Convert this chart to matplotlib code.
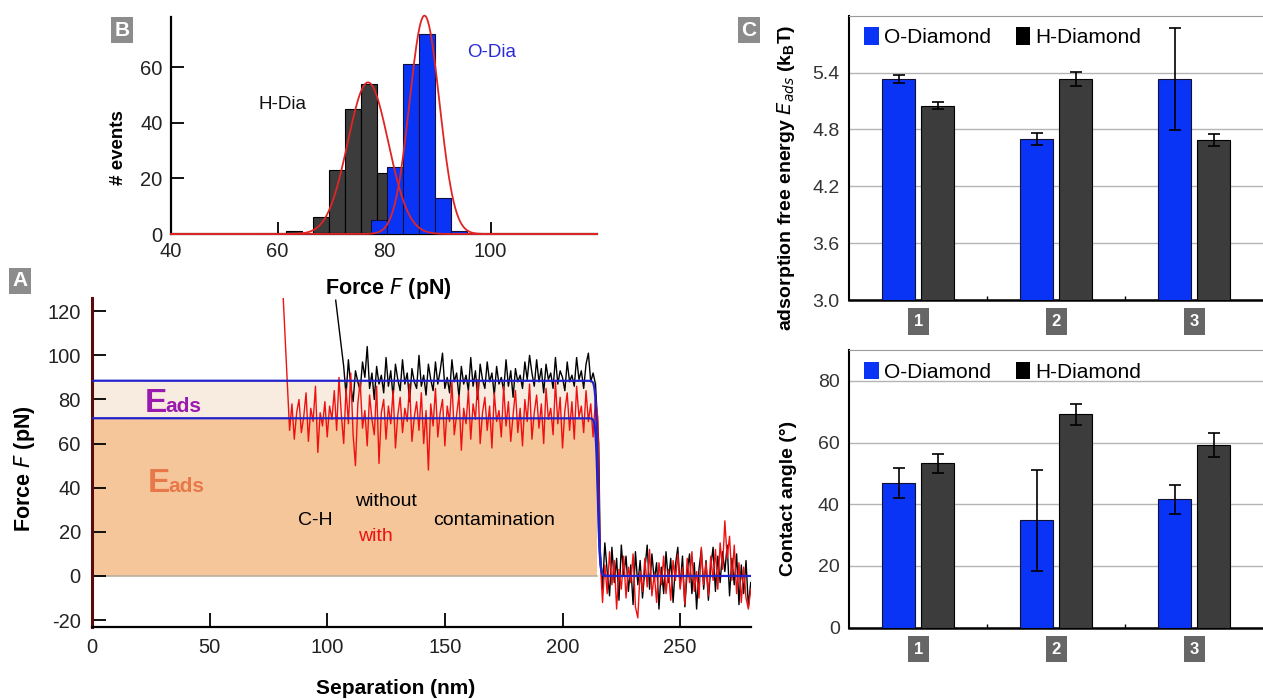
import numpy as np
import matplotlib
matplotlib.use('Agg')
import matplotlib.pyplot as plt
from matplotlib.patches import Patch

plt.rcParams['font.family'] = ['Liberation Sans', 'DejaVu Sans']
plt.rcParams['axes.unicode_minus'] = False

# ---- panel B: rupture force histograms (bin width 3 pN) ----
bin_width = 3.0
h_dia_left = [61.6, 66.6, 69.6, 72.6, 75.6, 78.6]
h_dia_counts = [1, 6, 23, 45, 54, 22]
o_dia_left = [77.6, 80.6, 83.6, 86.6, 89.6, 92.6]
o_dia_counts = [5, 24, 61, 72, 13, 1]
# gaussian fits: centre, sigma, amplitude
h_dia_fit = [77.0, 3.8, 54.5]
o_dia_fit = [87.6, 2.8, 78.5]

# ---- panel A: force-separation plateaus ----
fit_levels = [88.5, 71.5]       # without / with contamination (pN)
rupture_nm = 215.0
rupture_width = 0.9

red_lead_x = [81.3]
red_lead_f = [126]
red_start = 84
red_f = [66, 78, 62, 74, 80, 65, 72, 83, 61, 76, 70, 86, 56, 74, 68, 79, 63, 77, 71, 84,
         66, 90, 73, 60, 85, 69, 92, 64, 50, 78, 88, 67, 75, 59, 82, 71, 64, 86, 51, 74,
         80, 62, 77, 69, 84, 58, 73, 81, 65, 76, 70, 87, 61, 72, 79, 66, 83, 60, 75, 48,
         78, 68, 85, 63, 74, 80, 59, 77, 70, 88, 64, 73, 82, 57, 76, 69, 84, 62, 78, 71,
         89, 60, 74, 81, 66, 77, 58, 83, 70, 75, 63, 86, 68, 79, 61, 73, 84, 65, 76, 59,
         80, 70, 87, 62, 74, 82, 67, 78, 60, 85, 71, 76, 64, 88, 69, 81, 58, 75, 83, 66,
         79, 62, 86, 72, 77, 65, 84, 70, 78, 63, 80, 72,
         8, -12, 5, -8, 11, -4, 7, -15, 3, -6, 9, -10, 4, -3, 10, -14, -19, 2, -7, 8,
         -5, 12, -9, 1, -12, 6, -4, 9, -8, 3, -11, 7, -2, 10, -6, 4, -13, 8, -3, 11,
         -7, 2, -10, 13, -4, 6, -9, 9, -2, 12, -6, 15, 3, 25, 8, 18, -2, 14, -8, 6,
         -12, 4, -10, -15, -6]

black_lead_x = [103.6]
black_lead_f = [125]
black_start = 107
black_f = [95, 82, 98, 86, 79, 93, 88, 84, 97, 90, 104, 85, 92, 80, 95, 87, 91, 83, 99, 86,
           93, 81, 96, 89, 84, 98, 87, 92, 79, 94, 88, 85, 100, 86, 91, 82, 96, 89, 84, 97,
           87, 93, 101, 85, 90, 83, 98, 88, 92, 81, 95, 87, 91, 84, 99, 86, 93, 80, 96, 89,
           85, 97, 88, 92, 82, 95, 87, 90, 84, 98, 86, 93, 81, 94, 88, 91, 85, 97, 89, 100,
           92, 86, 98, 88, 94, 83, 96, 89, 92, 85, 99, 87, 93, 90, 84, 97, 88, 91, 86, 99,
           89, 93, 85, 96, 101, 88, 92, 87, 60,
           12, -6, 15, 2, -9, 13, -3, 8, -11, 14, 0, 9, -7, 5, -13, 11, -4, 7, -10, 3,
           14, -6, 10, -2, 6, -15, 4, -8, 11, -3, 8, -12, 5, 13, -5, 9, -14, 2, 10, -8,
           6, -15, 3, 12, -6, 7, -11, 4, 13, -7, 9, -3, 11, 2, 14, -9, 8, -4, 10, -13,
           5, -8, 7, -14, -3]

# ---- panel C: adsorption energy and contact angle ----
categories = ['1', '2', '3']
o_energy = [5.33, 4.70, 5.33]
o_energy_err = [0.04, 0.065, 0.54]
h_energy = [5.05, 5.33, 4.69]
h_energy_err = [0.035, 0.075, 0.06]
o_angle = [46.8, 34.8, 41.6]
o_angle_err = [4.9, 16.3, 4.8]
h_angle = [53.3, 69.1, 59.2]
h_angle_err = [3.1, 3.5, 3.8]

BLUE = '#0a34f5'
DARK = '#3c3c3c'
TICK_COLOR = '#222222'


def panel_letter(fig, x, y, letter):
    fig.text(x, y, letter, color='white', fontsize=15, fontweight='bold',
             ha='center', va='center',
             bbox=dict(boxstyle='square,pad=0.18', fc='#8c8c8c', ec='none'))


def gaussian(x, centre, sigma, amp):
    return amp * np.exp(-0.5 * ((x - centre) / sigma) ** 2)


def draw_histogram(ax):
    ax.bar(h_dia_left, h_dia_counts, width=bin_width, align='edge',
           color=DARK, edgecolor='black', linewidth=0.8, zorder=2)
    ax.bar(o_dia_left, o_dia_counts, width=bin_width, align='edge',
           color=BLUE, edgecolor='#101040', linewidth=0.8, zorder=3)
    xs = np.linspace(40, 120, 800)
    ax.plot(xs, gaussian(xs, *h_dia_fit), color='#e02525', lw=1.3, zorder=4, clip_on=False)
    ax.plot(xs, gaussian(xs, *o_dia_fit), color='#e02525', lw=1.3, zorder=4, clip_on=False)

    ax.set_xlim(40, 120)
    ax.set_ylim(0, 78)
    ax.set_xticks([40, 60, 80, 100])
    ax.set_yticks([0, 20, 40, 60])
    ax.tick_params(direction='in', length=9, width=1.3, labelsize=14.5,
                   labelcolor=TICK_COLOR, pad=6)
    for s in ['top', 'right']:
        ax.spines[s].set_visible(False)
    for s in ['left', 'bottom']:
        ax.spines[s].set_linewidth(1.6)
    ax.set_xlabel('Force $\\mathit{F}$ (pN)', fontsize=15.5, fontweight='bold')
    ax.set_ylabel('# events', fontsize=13.5, fontweight='bold')
    ax.xaxis.set_label_coords(0.509, -0.195)
    ax.yaxis.set_label_coords(-0.103, 0.40)
    ax.text(61, 46.6, 'H-Dia', fontsize=13.5, ha='center', va='center', color='#111111')
    ax.text(100.2, 65.3, 'O-Dia', fontsize=13.5, ha='center', va='center', color='#2a2ad8')


def draw_trace(ax):
    xs = np.linspace(0, 280, 2801)
    step = 0.5 * (1 - np.tanh((xs - rupture_nm) / rupture_width))
    upper, lower = fit_levels

    ax.fill_between([0, 214.5], 0, lower, color='#f5c69a', lw=0, zorder=1)
    ax.fill_between([0, 214.5], lower, upper, color='#f8ebdf', lw=0, zorder=1)
    ax.plot([0, 214.5], [0, 0], color='#bcae9e', lw=1.2, zorder=1.5)

    bx = np.concatenate([black_lead_x, np.arange(black_start, black_start + len(black_f))])
    bf = np.concatenate([black_lead_f, black_f])
    rx = np.concatenate([red_lead_x, np.arange(red_start, red_start + len(red_f))])
    rf = np.concatenate([red_lead_f, red_f])
    # put the rupture point halfway so the drop looks vertical
    bx = np.where(bx == 215, 215.4, bx)
    ax.plot(bx, bf, color='black', lw=1.0, zorder=2)
    ax.plot(rx, rf, color='#ee1111', lw=1.0, zorder=3)

    ax.plot(xs, upper * step, color='#2222cc', lw=1.6, zorder=4)
    ax.plot(xs[xs <= rupture_nm + 5], (lower * step)[xs <= rupture_nm + 5],
            color='#2222cc', lw=1.6, zorder=4)

    ax.set_xlim(0, 280)
    ax.set_ylim(-23, 126)
    ax.set_xticks(range(0, 251, 50))
    ax.set_yticks(range(-20, 121, 20))
    ax.tick_params(direction='in', length=10, width=1.3, labelsize=14.5,
                   labelcolor=TICK_COLOR, pad=8)
    for s in ['top', 'right']:
        ax.spines[s].set_visible(False)
    ax.spines['left'].set_color('#5a0c0c')
    ax.spines['left'].set_linewidth(2.2)
    ax.spines['bottom'].set_linewidth(1.6)
    ax.set_xlabel('Separation (nm)', fontsize=15, fontweight='bold')
    ax.set_ylabel('Force $\\mathit{F}$ (pN)', fontsize=15.5, fontweight='bold')
    ax.xaxis.set_label_coords(0.4615, -0.16)
    ax.yaxis.set_label_coords(-0.0835, 0.48)

    ax.text(22.5, 74.3, 'E', color='#9a1ab0', fontsize=24, fontweight='bold',
            ha='left', va='baseline', zorder=5)
    ax.text(31.0, 74.3, 'ads', color='#9a1ab0', fontsize=15, fontweight='bold',
            ha='left', va='baseline', zorder=5)
    ax.text(23.9, 38.0, 'E', color='#e8784a', fontsize=24, fontweight='bold',
            ha='left', va='baseline', zorder=5)
    ax.text(32.4, 38.0, 'ads', color='#e8784a', fontsize=15, fontweight='bold',
            ha='left', va='baseline', zorder=5)
    ax.text(94.9, 25.2, 'C-H', fontsize=14, ha='center', va='center', zorder=5)
    ax.text(125.0, 33.6, 'without', fontsize=14, ha='center', va='center', zorder=5)
    ax.text(120.6, 17.8, 'with', fontsize=14, ha='center', va='center',
            color='#ee1111', zorder=5)
    ax.text(170.7, 25.2, 'contamination', fontsize=14, ha='center', va='center', zorder=5)


def draw_bars(ax, o_vals, o_err, h_vals, h_err, ylim, yticks, fmt, ylabel, label_y):
    x = np.arange(len(categories))
    off, w = 0.141, 0.239
    err_kw = dict(ecolor='black', elinewidth=1.2, capsize=4, capthick=1.2)
    ax.bar(x - off, o_vals, w, yerr=o_err, color=BLUE, edgecolor='#101030',
           linewidth=0.8, error_kw=err_kw, zorder=3)
    ax.bar(x + off, h_vals, w, yerr=h_err, color=DARK, edgecolor='black',
           linewidth=0.8, error_kw=err_kw, zorder=3)

    ax.set_xlim(-0.5, 2.5)
    ax.set_ylim(*ylim)
    ax.set_yticks(yticks)
    ax.set_yticklabels([fmt.format(v) for v in yticks])
    ax.yaxis.grid(True, color='#b4b4b4', lw=1.0, zorder=0)
    ax.set_axisbelow(True)
    ax.tick_params(axis='y', length=0, labelsize=14, labelcolor='#333333', pad=7)
    ax.set_xticks(x)
    ax.set_xticklabels(categories)
    ax.set_xticks([0.5, 1.5], minor=True)
    ax.tick_params(axis='x', which='major', length=0, pad=10)
    ax.tick_params(axis='x', which='minor', direction='in', length=3, width=1)
    for t in ax.get_xticklabels():
        t.set_color('white')
        t.set_fontsize(12)
        t.set_fontweight('bold')
        t.set_bbox(dict(boxstyle='square,pad=0.35', fc='#666666', ec='none'))
    ax.spines['right'].set_visible(False)
    ax.spines['top'].set_color('#9a9a9a')
    ax.spines['left'].set_linewidth(1.5)
    ax.spines['bottom'].set_linewidth(1.8)

    handles = [Patch(fc=BLUE, ec='none'), Patch(fc='black', ec='none')]
    ax.legend(handles, ['O-Diamond', 'H-Diamond'], loc='upper left',
              bbox_to_anchor=(0.0, 1.01), ncol=2, frameon=False, fontsize=15,
              handlelength=0.7, handleheight=0.9, handletextpad=0.25,
              columnspacing=1.2, borderaxespad=0.3)
    ax.set_ylabel(ylabel, fontsize=14, fontweight='bold')
    ax.yaxis.set_label_coords(-0.126, label_y)


def main():
    fig = plt.figure(figsize=(12.63, 7.0), dpi=100)

    ax_a = fig.add_axes([0.0728, 0.1047, 0.5216, 0.4696])
    ax_b = fig.add_axes([0.1354, 0.6657, 0.3373, 0.3100])
    ax_c1 = fig.add_axes([0.6725, 0.5714, 0.3275, 0.4062])
    ax_c2 = fig.add_axes([0.6725, 0.1033, 0.3275, 0.3967])

    draw_trace(ax_a)
    draw_histogram(ax_b)
    draw_bars(ax_c1, o_energy, o_energy_err, h_energy, h_energy_err,
              (3.0, 6.0), [3.0, 3.6, 4.2, 4.8, 5.4], '{:.1f}',
              'adsorption free energy $\\mathit{E_{ads}}$ (k$_\\mathregular{B}$T)', 0.43)
    draw_bars(ax_c2, o_angle, o_angle_err, h_angle, h_angle_err,
              (0, 90), [0, 20, 40, 60, 80], '{:.0f}',
              'Contact angle (°)', 0.467)

    panel_letter(fig, 20 / 1263, 1 - 281 / 700, 'A')
    panel_letter(fig, 122 / 1263, 1 - 30 / 700, 'B')
    panel_letter(fig, 749 / 1263, 1 - 30 / 700, 'C')

    fig.savefig('out.png', dpi=100)


if __name__ == '__main__':
    main()
